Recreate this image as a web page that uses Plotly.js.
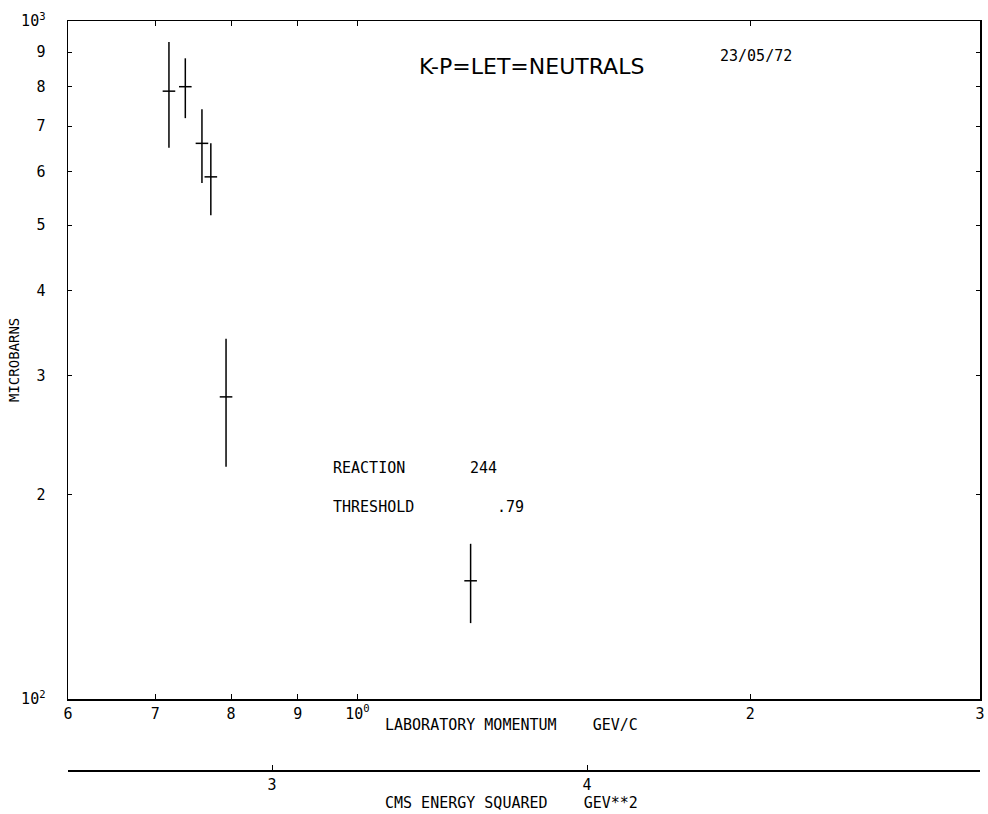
<!DOCTYPE html>
<html>
<head>
<meta charset="utf-8">
<script src="https://cdn.plot.ly/plotly-3.0.1.min.js"></script>
<style>html,body{margin:0;padding:0;background:#fff;}#chart{width:988px;height:814px;}</style>
</head>
<body>
<div id="chart"></div>
<script>
// Data
const momentum = [0.717, 0.738, 0.760, 0.772, 0.793, 1.221];      // GeV/c
const sigma    = [788, 800, 660, 589, 279, 149.4];                 // microbarns
const errPlus  = [143, 81, 81, 71, 61, 20];
const errMinus = [138, 81, 83, 72, 59, 20];

const xTickVals = [0.6, 0.7, 0.8, 0.9, 1, 2, 3];
const xTickText = ['6', '7', '8', '9', '10<sup>0</sup>', '2', '3'];
const yTickVals = [100, 200, 300, 400, 500, 600, 700, 800, 900, 1000];
const yTickText = ['10<sup>2</sup>', '2', '3', '4', '5', '6', '7', '8', '9', '10<sup>3</sup>'];
const sTickVals = [3, 4];
const sTickText = ['3', '4'];

const mono = 'DejaVu Sans Mono, monospace';
// layout geometry (pixels)
const W = 988, H = 814, mT = 21, mB = 44, mL = 68, mR = 8;
const paperBottom = H - mB, paperH = H - mT - mB;
const py = (pix) => (paperBottom - pix) / paperH;   // pixel row -> paper fraction
const px = (pix) => (pix - mL) / (W - mL - mR);

const trace = {
  type: 'scatter', mode: 'markers',
  x: momentum, y: sigma,
  marker: {symbol: 'line-ew', size: 9, line: {width: 1.5, color: '#000'}, color: '#000'},
  error_y: {type: 'data', symmetric: false, array: errPlus, arrayminus: errMinus,
            width: 0, thickness: 1.5, color: '#000'},
  showlegend: false, hoverinfo: 'skip'
};
const dummy = {type: 'scatter', mode: 'markers', x: [3], y: [null], xaxis: 'x2', yaxis: 'y',
  showlegend: false, hoverinfo: 'skip'};

function ann(text, x, y, size, extra) {
  return Object.assign({text: text, xref: 'paper', yref: 'paper', x: px(x), y: py(y),
    xanchor: 'left', yanchor: 'middle', showarrow: false, borderpad: 0,
    font: {family: mono, size: size, color: '#000'}}, extra || {});
}

const layout = {
  width: W, height: H,
  margin: {l: mL, r: mR, t: mT, b: mB},
  paper_bgcolor: '#fff', plot_bgcolor: '#fff',
  showlegend: false,
  xaxis: {
    type: 'log', range: [Math.log10(0.6), Math.log10(3)],
    tickvals: xTickVals, ticktext: xTickText,
    ticks: 'inside', ticklen: 5, tickwidth: 1, tickcolor: '#000',
    showline: true, linecolor: '#000', linewidth: 1.5, mirror: 'ticks',
    showgrid: false, zeroline: false,
    tickfont: {family: mono, size: 15, color: '#000'},
    anchor: 'y'
  },
  xaxis2: {
    type: 'linear', range: [2.3524, 5.2476],
    tickvals: sTickVals, ticktext: sTickText,
    ticks: 'inside', ticklen: 5, tickwidth: 1, tickcolor: '#000',
    showline: true, linecolor: '#000', linewidth: 1.5,
    showgrid: false, zeroline: false,
    ticklabelstandoff: 0,
    tickfont: {family: mono, size: 15, color: '#000'},
    anchor: 'free', position: 0, overlaying: 'x', side: 'bottom'
  },
  yaxis: {
    type: 'log', range: [2, 3], domain: [py(699), 1],
    tickvals: yTickVals, ticktext: yTickText,
    ticks: 'inside', ticklen: 4, tickwidth: 1, tickcolor: '#000',
    showline: true, linecolor: '#000', linewidth: 1.5, mirror: 'ticks',
    showgrid: false, zeroline: false,
    ticklabelstandoff: 18,
    tickfont: {family: mono, size: 15, color: '#000'}
  },
  annotations: [
    ann('K-P=LET=NEUTRALS', 418, 67, 22, {font: {family: 'DejaVu Sans, sans-serif', size: 22, color: '#000'}}),
    ann('23/05/72', 719, 56, 15),
    ann('REACTION', 332, 468, 15),
    ann('244', 469, 468, 15),
    ann('THRESHOLD', 332, 507, 15),
    ann('.79', 496, 507, 15),
    ann('LABORATORY MOMENTUM    GEV/C', 384, 725, 15),
    ann('CMS ENERGY SQUARED    GEV**2', 384, 803, 15),
    ann('MICROBARNS', 14, 360, 14, {xanchor: 'center', textangle: -90})
  ]
};

Plotly.newPlot('chart', [trace, dummy], layout, {displayModeBar: false, staticPlot: true});
</script>
</body>
</html>
